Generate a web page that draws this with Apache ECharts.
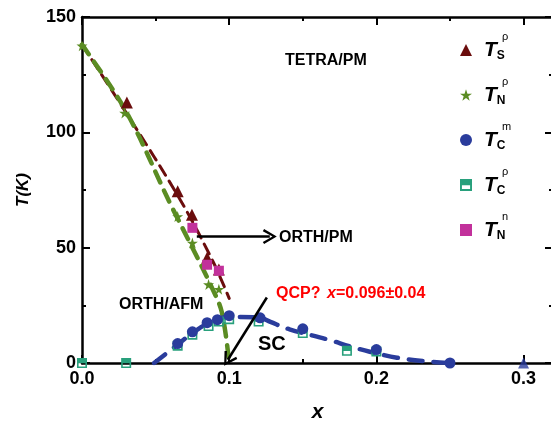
<!DOCTYPE html>
<html>
<head>
<meta charset="utf-8">
<script src="https://cdn.jsdelivr.net/npm/echarts@6/dist/echarts.min.js"></script>
<style>
  html, body { margin: 0; padding: 0; background: #fff; }
  #main { width: 551px; height: 421px; }
</style>
</head>
<body>
<div id="main"></div>
<script>
// data: [x, T(K)]
var tsRho = [[0.0305, 112.9], [0.065, 74.5], [0.0747, 64.3], [0.085, 45.6], [0.093, 40.5]];
var tnRho = [[0.0, 137.5], [0.029, 108.4], [0.065, 63.5], [0.075, 52], [0.086, 34], [0.093, 32]];
var tcM = [[0.065, 8.4], [0.075, 13.5], [0.085, 17.5], [0.092, 18.8], [0.1, 20.5], [0.121, 19.6], [0.15, 14.8], [0.2, 5.8], [0.25, 0]];
var tcRho = [[0.0, 0], [0.03, 0], [0.065, 7.5], [0.075, 12.3], [0.086, 16], [0.093, 18], [0.1, 19], [0.12, 18], [0.15, 13], [0.18, 5.3], [0.2, 5]];
var tnN = [[0.075, 58.6], [0.085, 42.6], [0.093, 40]];
var noSc = [[0.3, 0]];

// dashed guide curves
var tsLine = [[0, 138], [0.0305, 108], [0.0665, 71], [0.089, 44], [0.1, 28]];
var tnLine = [[0, 138], [0.03, 109], [0.06, 69], [0.075, 50], [0.088, 33], [0.095, 22], [0.1, 0]];
var scLine = [[0.049, 0], [0.065, 8], [0.075, 13], [0.085, 17], [0.1, 20], [0.12, 19.8], [0.128, 17.8], [0.141, 14.6], [0.168, 10], [0.182, 7.2], [0.1955, 4.9], [0.214, 2.3], [0.236, 0.6], [0.25, 0]];

var xTicks = [0, 0.1, 0.2, 0.3];
var yTicks = [0, 50, 100, 150];

var legendNames = ['Ts', 'Tn', 'Tcm', 'Tcr', 'Tnn'];
var legendSubs = ['S', 'N', 'C', 'C', 'N'];
var legendSups = ['ρ', 'ρ', 'm', 'ρ', 'n'];

var brown = '#6b0d0d', green = '#5b8c23', blue = '#2a3c9c', teal = '#28a07c', magenta = '#c2319b';
var font = 'Liberation Sans, Arial, sans-serif';
var halfSquare = 'path://M0,0 L10,0 L10,10 L0,10 Z M1.6,5.2 L1.6,8.4 L8.4,8.4 L8.4,5.2 Z';
var chevron = 'path://M5,0 L10,10 L8.6,11 L5,3.4 L1.4,11 L0,10 Z';

var chart = echarts.init(document.getElementById('main'));

var axisCommon = {
    type: 'value',
    axisLine: { onZero: false, lineStyle: { color: '#000', width: 2.5 } },
    axisTick: { inside: true, length: 8, lineStyle: { color: '#000', width: 2 } },
    minorTick: { show: true, splitNumber: 2, length: 4, lineStyle: { color: '#000', width: 2 } },
    splitLine: { show: false },
    minorSplitLine: { show: false }
};

function xAxisOf(pos, labels) {
    return Object.assign({}, axisCommon, {
        position: pos,
        min: 0, max: 0.32, interval: 0.1,
        axisLabel: {
            show: labels, color: '#000', fontFamily: font, fontWeight: 'bold', fontSize: 18, margin: 7,
            showMaxLabel: false,
            formatter: function (v) {
                for (var i = 0; i < xTicks.length; i++) {
                    if (Math.abs(v - xTicks[i]) < 1e-6) return xTicks[i].toFixed(1);
                }
                return '';
            }
        },
        name: labels ? 'x' : '',
        nameLocation: 'middle',
        nameGap: 39,
        nameTextStyle: { color: '#000', fontFamily: font, fontWeight: 'bold', fontStyle: 'italic', fontSize: 21 }
    });
}

function yAxisOf(pos, labels) {
    return Object.assign({}, axisCommon, {
        position: pos,
        min: 0, max: 150, interval: 50,
        axisLabel: {
            show: labels, color: '#000', fontFamily: font, fontWeight: 'bold', fontSize: 18, margin: 6,
            formatter: function (v) { return yTicks.indexOf(v) >= 0 ? String(v) : ''; }
        },
        name: labels ? 'T(K)' : '',
        nameLocation: 'middle',
        nameGap: 50,
        nameRotate: 90,
        nameTextStyle: { color: '#000', fontFamily: font, fontWeight: 'bold', fontStyle: 'italic', fontSize: 17 }
    });
}

function dashed(data, color, width, dash) {
    return {
        type: 'line', data: data, smooth: 0.35, showSymbol: false, symbol: 'none', silent: true, z: 1,
        lineStyle: { color: color, width: width, type: dash, cap: 'round' }
    };
}

function marks(name, data, symbol, size, color) {
    return {
        name: name, type: 'scatter', data: data, symbol: symbol, symbolSize: size, z: 3,
        itemStyle: { color: color, opacity: 1 }
    };
}

var legendTop = 33, legendStep = 45;
var sups = legendSups.map(function (s, i) {
    return {
        type: 'text', left: 502, top: 45 + i * legendStep - 14,
        style: { text: s, fill: '#000', font: '11px ' + font }
    };
});

chart.setOption({
    animation: false,
    backgroundColor: '#fff',
    grid: { left: 82, right: -2, top: 17, bottom: 58, containLabel: false, outerBoundsMode: 'none' },
    xAxis: [xAxisOf('bottom', true), xAxisOf('top', false)],
    yAxis: [yAxisOf('left', true), yAxisOf('right', false)],
    legend: {
        orient: 'vertical', left: 455, top: legendTop, itemGap: 21,
        itemWidth: 12, itemHeight: 12, selectedMode: false,
        data: legendNames,
        formatter: function (n) {
            var i = legendNames.indexOf(n);
            return '{t|T}{s|' + legendSubs[i] + '}';
        },
        textStyle: {
            rich: {
                t: { fontFamily: font, fontSize: 21, fontWeight: 'bold', fontStyle: 'italic', color: '#000', lineHeight: 18, padding: [0, 0, 0, 7] },
                s: { fontFamily: font, fontSize: 12, fontWeight: 'bold', color: '#000', lineHeight: 18, padding: [12, 0, 0, 0] }
            }
        }
    },
    graphic: [
        { type: 'text', left: 285, top: 53, style: { text: 'TETRA/PM', fill: '#000', font: 'bold 16px ' + font } },
        { type: 'text', left: 279, top: 230, style: { text: 'ORTH/PM', fill: '#000', font: 'bold 16px ' + font } },
        { type: 'text', left: 119, top: 297, style: { text: 'ORTH/AFM', fill: '#000', font: 'bold 16px ' + font } },
        { type: 'text', left: 258, top: 334, style: { text: 'SC', fill: '#000', font: 'bold 20px ' + font } },
        {
            type: 'text', left: 276, top: 286,
            style: {
                text: '{a|QCP?}  {i|x}{a|=0.096±0.04}',
                rich: {
                    a: { fill: '#f00', font: 'bold 16px ' + font },
                    i: { fill: '#f00', font: 'italic bold 16px ' + font }
                }
            }
        }
    ].concat(sups),
    series: [
        dashed(tsLine, brown, 3, [11, 7]),
        dashed(tnLine, green, 4.5, [12, 9]),
        dashed(scLine, blue, 4.5, [14, 11]),
        marks('Ts', tsRho, 'triangle', 12, brown),
        marks('Tn', tnRho, 'path://M50,0 L61.8,35.1 L98.5,35.1 L68.8,56.7 L79.4,91.5 L50,70 L20.6,91.5 L31.2,56.7 L1.5,35.1 L38.2,35.1 Z', 11, green),
        marks('Tcr', tcRho, halfSquare, 10, teal),
        marks('Tcm', tcM, 'circle', 11, blue),
        marks('Tnn', tnN, 'rect', 10, magenta),
        {
            type: 'scatter', data: noSc, symbol: 'triangle', symbolSize: 11, z: 3,
            itemStyle: { color: blue },
            markLine: {
                silent: true, symbol: ['none', chevron], symbolSize: [15, 14],
                label: { show: false },
                lineStyle: { color: '#000', width: 2.5, type: 'solid' },
                data: [
                    [{ coord: [0.078, 54.8] }, { coord: [0.1276, 54.8] }],
                    [{ coord: [0.1256, 28.4] }, { coord: [0.0991, 1.4] }]
                ]
            }
        }
    ]
});
</script>
</body>
</html>
